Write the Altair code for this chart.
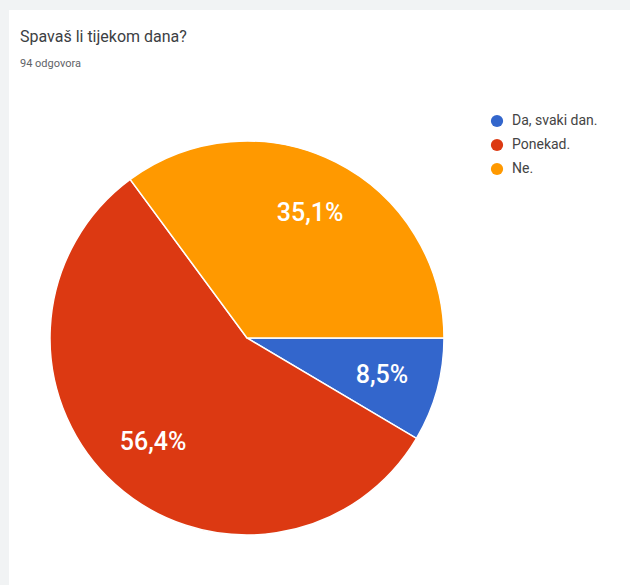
import math
import altair as alt
import pandas as pd

categories = ["Da, svaki dan.", "Ponekad.", "Ne."]
counts = [8, 53, 33]
labels = ["8,5%", "56,4%", "35,1%"]
colors = ["#3366cc", "#dc3912", "#ff9900"]

title_text = "Spavaš li tijekom dana?"
subtitle_text = "94 odgovora"

df = pd.DataFrame({
    "odgovor": categories,
    "broj": counts,
    "oznaka": labels,
    "red": list(range(len(categories))),
})

W, H = 621, 575
cx, cy, R = 238, 328, 197

theta = alt.Theta("broj:Q", stack=True,
                  scale=alt.Scale(range=[math.pi / 2, math.pi / 2 + 2 * math.pi]))

base = alt.Chart(df).encode(
    theta=theta,
    order=alt.Order("red:Q"),
)

pie = base.mark_arc(outerRadius=R, stroke="white", strokeWidth=1.5).encode(
    x=alt.value(cx), y=alt.value(cy),
    color=alt.Color(
        "odgovor:N",
        sort=categories,
        scale=alt.Scale(domain=categories, range=colors),
        legend=alt.Legend(
            title=None, orient="none", legendX=481, legendY=104,
            symbolType="circle", symbolSize=150, symbolStrokeWidth=0,
            labelFont="Roboto", labelFontSize=14, labelColor="#444444",
            rowPadding=10, labelOffset=8,
        ),
    ),
)

txt = base.mark_text(radius=140, font="Roboto", fontSize=25, fontWeight=500,
                     color="white").encode(
    x=alt.value(cx), y=alt.value(cy),
    text="oznaka:N",
)

title = alt.Chart(pd.DataFrame({"t": [title_text]})).mark_text(
    align="left", baseline="alphabetic", font="Roboto", fontSize=16, color="#3c4043"
).encode(x=alt.value(11), y=alt.value(32), text="t:N")

subtitle = alt.Chart(pd.DataFrame({"t": [subtitle_text]})).mark_text(
    align="left", baseline="alphabetic", font="Roboto", fontSize=11, color="#5f6368"
).encode(x=alt.value(11), y=alt.value(57), text="t:N")

chart = alt.layer(pie, txt, title, subtitle).properties(
    width=W, height=H,
    padding={"left": 9, "top": 10, "right": 0, "bottom": 0},
    background="#f1f3f4",
).configure_view(fill="white", stroke=None)

chart.save("out.html", embed_options={"renderer": "svg", "actions": False})
